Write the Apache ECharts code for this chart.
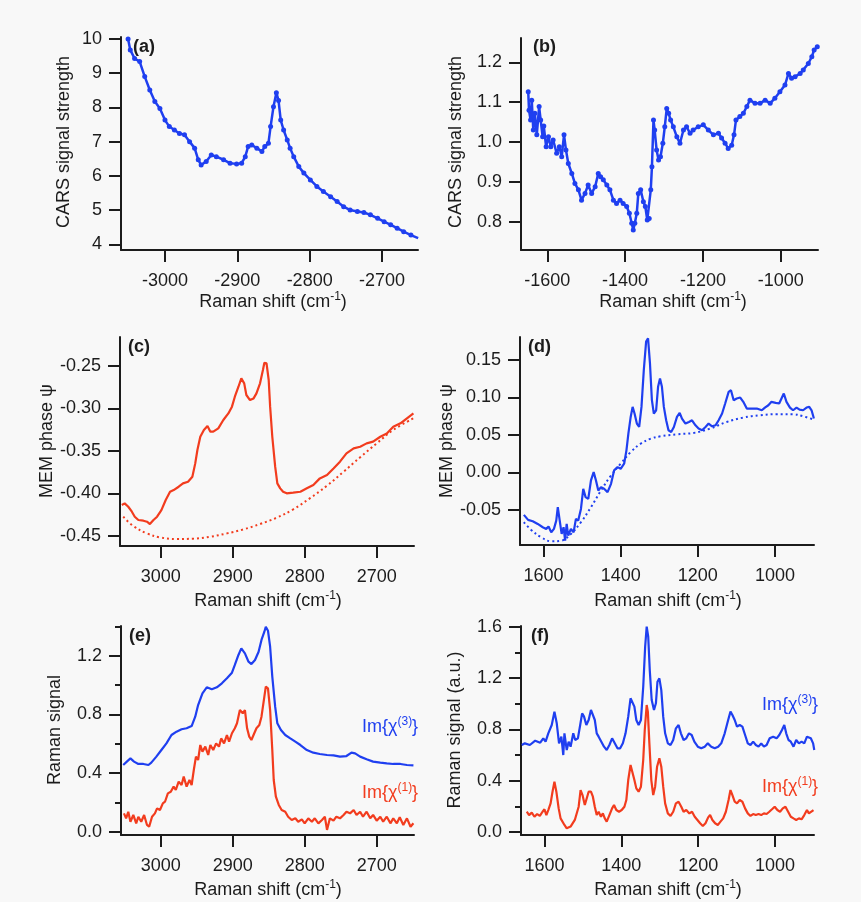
<!DOCTYPE html>
<html>
<head>
<meta charset="utf-8">
<script src="https://cdn.jsdelivr.net/npm/echarts@6/dist/echarts.min.js"></script>
<style>
  html, body { margin: 0; padding: 0; background: #f8f8f8; }
  #chart { width: 861px; height: 902px; }
</style>
</head>
<body>
<div id="chart"></div>
<script>
// ---- (a) CARS spectrum, C–H stretch region ----
const aShift = [-3051,-3048,-3042,-3035,-3028,-3021,-3014,-3007,-3000,-2994,-2987,-2980,-2973,-2966,-2959,-2954,-2950,-2943,-2936,-2929,-2919,-2910,-2901,-2894,-2889,-2885,-2880,-2873,-2866,-2862,-2857,-2854,-2850,-2846,-2843,-2840,-2836,-2831,-2827,-2822,-2815,-2808,-2799,-2790,-2781,-2771,-2762,-2753,-2744,-2734,-2725,-2716,-2706,-2697,-2688,-2679,-2670,-2660,-2650];
const aSignal = [10.0,9.68,9.43,9.34,8.9,8.51,8.17,7.97,7.63,7.44,7.34,7.24,7.2,7.0,6.81,6.47,6.32,6.42,6.61,6.56,6.47,6.37,6.35,6.37,6.56,6.86,6.9,6.81,6.71,6.86,6.95,7.44,8.02,8.43,8.2,7.63,7.34,7.05,6.81,6.56,6.27,6.08,5.88,5.69,5.54,5.39,5.25,5.1,5.0,4.96,4.93,4.86,4.76,4.66,4.57,4.47,4.37,4.27,4.18];

// ---- (b) CARS spectrum, fingerprint region ----
const bShift = [-1649,-1647,-1643,-1640,-1636,-1632,-1627,-1621,-1617,-1612,-1609,-1603,-1597,-1591,-1585,-1576,-1569,-1563,-1557,-1552,-1546,-1537,-1529,-1520,-1512,-1503,-1495,-1486,-1477,-1469,-1463,-1456,-1447,-1439,-1430,-1422,-1413,-1405,-1396,-1389,-1383,-1379,-1375,-1370,-1366,-1360,-1353,-1348,-1343,-1338,-1334,-1331,-1327,-1324,-1319,-1314,-1309,-1303,-1298,-1293,-1288,-1283,-1276,-1267,-1259,-1250,-1242,-1233,-1225,-1212,-1199,-1186,-1173,-1160,-1152,-1143,-1135,-1126,-1120,-1115,-1105,-1096,-1087,-1079,-1066,-1053,-1040,-1027,-1015,-1002,-989,-980,-972,-963,-950,-942,-929,-920,-914,-906];
const bSignal = [1.126,1.08,1.055,1.105,1.03,1.072,1.018,1.089,1.055,1.013,1.04,0.988,1.013,0.988,1.005,0.972,0.988,0.963,1.018,0.98,0.946,0.921,0.896,0.88,0.854,0.871,0.892,0.871,0.888,0.921,0.913,0.905,0.892,0.88,0.854,0.846,0.854,0.846,0.838,0.821,0.796,0.779,0.796,0.821,0.871,0.88,0.85,0.838,0.804,0.808,0.88,0.938,1.055,1.03,0.98,0.955,0.963,0.997,1.038,1.084,1.072,1.055,1.038,1.013,0.997,1.03,1.038,1.022,1.03,1.038,1.043,1.03,1.018,1.022,1.01,0.997,0.984,0.992,1.018,1.055,1.064,1.072,1.089,1.105,1.097,1.097,1.105,1.097,1.11,1.126,1.143,1.172,1.16,1.164,1.172,1.181,1.197,1.214,1.231,1.239];

// ---- (c) MEM phase, C–H stretch region ----
const cShift = [3054,3050,3045,3040,3036,3031,3024,3019,3015,3010,3005,2999,2993,2987,2982,2975,2969,2962,2956,2952,2949,2945,2940,2935,2931,2927,2920,2913,2906,2901,2897,2892,2888,2884,2881,2876,2871,2867,2862,2858,2856,2853,2850,2848,2845,2841,2838,2834,2830,2825,2816,2806,2797,2788,2779,2769,2760,2751,2742,2732,2723,2714,2705,2695,2686,2677,2667,2658,2649];
const cPhase = [-0.4136,-0.4116,-0.4156,-0.4214,-0.4273,-0.4312,-0.432,-0.4332,-0.4359,-0.4312,-0.4273,-0.4195,-0.4077,-0.398,-0.396,-0.3921,-0.3882,-0.3862,-0.3803,-0.3647,-0.349,-0.3334,-0.3255,-0.3208,-0.3275,-0.3275,-0.3236,-0.3138,-0.306,-0.2981,-0.2864,-0.2747,-0.2649,-0.2707,-0.2844,-0.2903,-0.2884,-0.2825,-0.2707,-0.2551,-0.2465,-0.2473,-0.2668,-0.2981,-0.3334,-0.3686,-0.3882,-0.394,-0.398,-0.3999,-0.3991,-0.398,-0.394,-0.3901,-0.3823,-0.3784,-0.3706,-0.3627,-0.3529,-0.3471,-0.3451,-0.3412,-0.3392,-0.3334,-0.3295,-0.3216,-0.3177,-0.3118,-0.306];
const cBaseShift = [3052,3038,3019,3001,2978,2955,2931,2908,2885,2862,2839,2816,2793,2769,2746,2723,2700,2677,2649];
const cBasePhase = [-0.4273,-0.4383,-0.4469,-0.4516,-0.4535,-0.4531,-0.4508,-0.4469,-0.4422,-0.4359,-0.4285,-0.4187,-0.4058,-0.3909,-0.3745,-0.3576,-0.3412,-0.3255,-0.3118];

// ---- (d) MEM phase, fingerprint region ----
const dShift = [1651,1640,1628,1615,1602,1593,1587,1580,1573,1567,1563,1558,1553,1548,1544,1540,1536,1529,1522,1516,1510,1503,1497,1491,1484,1477,1470,1464,1458,1451,1443,1434,1425,1417,1408,1400,1391,1385,1380,1374,1369,1364,1358,1352,1346,1340,1334,1329,1324,1319,1314,1308,1303,1298,1293,1288,1282,1276,1269,1262,1254,1247,1241,1232,1223,1215,1206,1198,1189,1180,1172,1163,1154,1146,1137,1129,1120,1114,1107,1099,1090,1082,1073,1060,1047,1034,1026,1017,1009,998,989,983,977,970,961,953,944,936,927,918,911,905,899];
const dPhase = [-0.0567,-0.0634,-0.0652,-0.0688,-0.0732,-0.0754,-0.0723,-0.0799,-0.0754,-0.0643,-0.0464,-0.0643,-0.0821,-0.0732,-0.0911,-0.0688,-0.0844,-0.0754,-0.0799,-0.0621,-0.0643,-0.0487,-0.0219,-0.033,-0.0353,-0.0107,0.0004,-0.0107,-0.0241,-0.0196,-0.0219,-0.0263,-0.0152,0.0027,0.0071,0.0049,0.0116,0.0295,0.0518,0.0741,0.0875,0.0786,0.0652,0.0607,0.0875,0.1366,0.1746,0.179,0.1455,0.0964,0.0786,0.083,0.1143,0.1254,0.1143,0.0875,0.0696,0.0563,0.054,0.0607,0.0741,0.0795,0.0719,0.0652,0.0674,0.0696,0.0629,0.0585,0.0563,0.0607,0.0652,0.0616,0.0629,0.0696,0.0786,0.092,0.1076,0.1098,0.0964,0.0987,0.1,0.0942,0.0853,0.0853,0.0853,0.083,0.0866,0.0897,0.0942,0.0929,0.092,0.0987,0.1054,0.0942,0.0866,0.083,0.0866,0.0839,0.083,0.0866,0.0875,0.083,0.0719];
const dBaseShift = [1651,1632,1606,1580,1554,1529,1503,1477,1451,1425,1400,1374,1348,1322,1297,1254,1211,1168,1125,1082,1039,996,953,927,899];
const dBasePhase = [-0.0665,-0.0768,-0.0866,-0.092,-0.0911,-0.0821,-0.0665,-0.0464,-0.0241,-0.004,0.0116,0.0272,0.0384,0.0451,0.0482,0.0509,0.0527,0.0585,0.0674,0.0732,0.0763,0.0777,0.0777,0.075,0.0705];

// ---- (e) retrieved Raman spectra, C–H stretch region ----
const eShift3 = [3052,3047,3042,3037,3031,3024,3017,3013,3006,2999,2992,2985,2978,2971,2964,2957,2952,2948,2942,2936,2929,2922,2915,2908,2901,2897,2892,2888,2883,2878,2874,2869,2864,2860,2856,2854,2851,2848,2845,2841,2838,2833,2827,2820,2813,2806,2797,2788,2779,2769,2760,2751,2742,2735,2730,2723,2714,2705,2695,2686,2677,2667,2658,2649];
const eChi3 = [0.456,0.479,0.501,0.479,0.463,0.463,0.456,0.472,0.513,0.558,0.603,0.66,0.683,0.699,0.706,0.721,0.785,0.864,0.944,0.985,0.971,0.985,1.012,1.046,1.084,1.137,1.205,1.25,1.216,1.159,1.143,1.171,1.227,1.307,1.363,1.397,1.37,1.261,1.057,0.853,0.74,0.694,0.66,0.637,0.615,0.592,0.558,0.54,0.531,0.524,0.522,0.513,0.517,0.54,0.535,0.513,0.495,0.479,0.472,0.467,0.463,0.463,0.456,0.454];
const eShift1 = [3051,3048,3045,3042,3038,3034,3031,3027,3023,3019,3016,3012,3008,3005,3001,2997,2994,2990,2986,2982,2979,2975,2971,2968,2964,2960,2957,2954,2951,2948,2945,2942,2938,2934,2931,2927,2923,2919,2916,2912,2908,2905,2901,2897,2894,2890,2886,2883,2880,2877,2874,2870,2867,2863,2860,2856,2854,2851,2848,2845,2843,2840,2836,2832,2827,2823,2818,2813,2809,2804,2800,2795,2790,2786,2781,2776,2772,2769,2765,2760,2756,2751,2746,2742,2737,2732,2728,2723,2719,2714,2709,2705,2700,2695,2691,2686,2681,2677,2672,2668,2663,2658,2653,2649];
const eChi1 = [0.127,0.093,0.138,0.07,0.116,0.059,0.104,0.07,0.116,0.048,0.036,0.104,0.127,0.161,0.15,0.195,0.206,0.263,0.274,0.309,0.286,0.343,0.32,0.377,0.309,0.354,0.32,0.422,0.513,0.49,0.592,0.547,0.581,0.524,0.592,0.558,0.603,0.581,0.637,0.603,0.66,0.615,0.672,0.706,0.74,0.83,0.808,0.83,0.706,0.649,0.626,0.672,0.706,0.728,0.785,0.921,0.989,0.978,0.83,0.558,0.354,0.24,0.184,0.15,0.138,0.104,0.082,0.093,0.07,0.086,0.059,0.093,0.07,0.093,0.059,0.082,0.104,0.014,0.093,0.077,0.104,0.093,0.116,0.138,0.127,0.15,0.116,0.138,0.104,0.138,0.093,0.116,0.077,0.104,0.07,0.104,0.059,0.093,0.059,0.1,0.048,0.093,0.036,0.059];

// ---- (f) retrieved Raman spectra, fingerprint region ----
const fShift3 = [1659,1651,1638,1624,1611,1603,1597,1590,1581,1574,1568,1562,1556,1551,1548,1542,1537,1532,1525,1520,1513,1507,1502,1497,1491,1485,1479,1474,1469,1464,1459,1452,1445,1438,1431,1424,1417,1410,1403,1396,1389,1382,1376,1371,1366,1361,1355,1349,1343,1338,1334,1330,1326,1321,1315,1310,1306,1301,1296,1291,1286,1279,1272,1265,1258,1251,1245,1238,1231,1224,1217,1210,1201,1192,1183,1175,1166,1157,1148,1140,1131,1122,1116,1111,1105,1099,1092,1085,1078,1071,1064,1057,1050,1043,1036,1029,1022,1014,1005,996,989,982,976,971,965,959,952,945,938,931,924,917,912,907,901,898];
const fChi3 = [0.678,0.691,0.678,0.712,0.696,0.73,0.704,0.769,0.834,0.938,0.847,0.691,0.743,0.6,0.769,0.639,0.704,0.665,0.769,0.717,0.73,0.834,0.925,0.899,0.834,0.873,0.951,0.951,0.873,0.769,0.743,0.704,0.665,0.639,0.678,0.73,0.691,0.652,0.652,0.691,0.769,0.899,1.042,1.055,0.977,0.873,0.834,0.873,1.132,1.444,1.6,1.522,1.262,1.029,0.951,1.003,1.171,1.197,1.106,0.899,0.769,0.691,0.678,0.717,0.808,0.834,0.769,0.717,0.73,0.769,0.756,0.704,0.665,0.652,0.665,0.691,0.665,0.652,0.665,0.691,0.769,0.873,0.938,0.912,0.873,0.821,0.834,0.821,0.756,0.691,0.678,0.704,0.678,0.665,0.691,0.665,0.678,0.73,0.743,0.73,0.756,0.795,0.834,0.769,0.717,0.704,0.665,0.717,0.691,0.704,0.691,0.743,0.756,0.73,0.691,0.639];
const fShift1 = [1646,1640,1633,1626,1619,1612,1605,1600,1595,1590,1584,1579,1574,1569,1563,1558,1553,1548,1542,1537,1532,1527,1521,1516,1511,1506,1501,1495,1490,1485,1479,1474,1469,1464,1459,1453,1448,1443,1438,1431,1424,1419,1413,1406,1399,1392,1387,1382,1376,1371,1366,1361,1355,1349,1343,1339,1334,1331,1327,1322,1317,1312,1307,1301,1296,1291,1286,1279,1272,1265,1258,1251,1244,1238,1231,1223,1216,1209,1202,1195,1188,1181,1174,1169,1163,1156,1149,1142,1135,1128,1121,1116,1111,1105,1099,1092,1085,1078,1071,1064,1057,1050,1043,1036,1029,1022,1015,1008,1001,994,987,980,973,966,959,952,945,938,931,924,917,912,907,900];
const fChi1 = [0.158,0.132,0.151,0.119,0.14,0.125,0.158,0.177,0.132,0.171,0.223,0.314,0.392,0.314,0.184,0.106,0.094,0.055,0.029,0.016,0.042,0.029,0.094,0.106,0.197,0.327,0.288,0.21,0.223,0.314,0.314,0.275,0.197,0.132,0.158,0.119,0.145,0.106,0.081,0.132,0.184,0.21,0.171,0.158,0.171,0.197,0.249,0.405,0.522,0.509,0.405,0.34,0.314,0.353,0.561,0.795,0.99,0.938,0.691,0.405,0.288,0.353,0.509,0.574,0.509,0.353,0.223,0.145,0.125,0.158,0.223,0.236,0.197,0.158,0.171,0.145,0.158,0.119,0.094,0.068,0.047,0.068,0.114,0.132,0.094,0.068,0.055,0.081,0.106,0.158,0.249,0.327,0.288,0.236,0.223,0.249,0.236,0.184,0.145,0.125,0.14,0.132,0.14,0.132,0.145,0.14,0.158,0.177,0.197,0.171,0.158,0.184,0.197,0.158,0.119,0.106,0.094,0.106,0.099,0.132,0.171,0.145,0.158,0.171];

// ---- tick values ----
const chTicksNeg = [-3000, -2900, -2800, -2700];
const fpTicksNeg = [-1600, -1400, -1200, -1000];
const chTicks = [3000, 2900, 2800, 2700];
const fpTicks = [1600, 1400, 1200, 1000];
const aTicksY = [4, 5, 6, 7, 8, 9, 10];
const bTicksY = [0.8, 0.9, 1.0, 1.1, 1.2];
const cTicksY = [-0.45, -0.40, -0.35, -0.30, -0.25];
const dTicksY = [-0.05, 0.00, 0.05, 0.10, 0.15];
const eTicksY = [0.0, 0.4, 0.8, 1.2];
const eMinorY = [0.2, 0.6, 1.0, 1.4];
const fTicksY = [0.0, 0.4, 0.8, 1.2, 1.6];
const fMinorY = [0.2, 0.6, 1.0, 1.4];

// ---- styling ----
const FONT = '"Liberation Sans", Arial, Helvetica, sans-serif';
const INK = '#1c1c1c';
const BLUE = '#1f3ff0';
const RED = '#f23c1e';
const TICK_FS = 18;

function zip(xs, ys) {
  const n = Math.min(xs.length, ys.length);
  const out = [];
  for (let i = 0; i < n; i++) out.push([xs[i], ys[i]]);
  return out;
}

// panel frames: [left, top, right, bottom] in px, with axis extents
const panels = [
  { box: [121, 37, 418, 250], x: [-3060.8, -2650.2], inv: false, xt: chTicksNeg, y: [3.833, 10.058], yt: aTicksY, yd: 0 },
  { box: [521, 38, 818, 250], x: [-1667.6, -904.1], inv: false, xt: fpTicksNeg, y: [0.729, 1.261], yt: bTicksY, yd: 1 },
  { box: [120, 337, 414, 546], x: [2648.2, 3056.5], inv: true, xt: chTicks, y: [-0.4617, -0.2163], yt: cTicksY, yd: 2 },
  { box: [520, 337, 814, 545], x: [898.7, 1661], inv: true, xt: fpTicks, y: [-0.0969, 0.1808], yt: dTicksY, yd: 2 },
  { box: [121, 626, 414, 835], x: [2648.2, 3055.1], inv: true, xt: chTicks, y: [-0.0204, 1.402], yt: eTicksY, yd: 1 },
  { box: [521, 626, 814, 835], x: [898.7, 1661], inv: true, xt: fpTicks, y: [-0.0234, 1.6055], yt: fTicksY, yd: 1 }
];

const grid = [], xAxis = [], yAxis = [];
panels.forEach((p, i) => {
  const [l, t, r, b] = p.box;
  grid.push({ left: l, top: t, width: r - l, height: b - t, containLabel: false });
  xAxis.push({
    type: 'value', gridIndex: i, min: p.x[0], max: p.x[1], inverse: p.inv, position: 'bottom',
    axisLine: { show: true, onZero: false, lineStyle: { color: INK, width: 2 } },
    axisTick: { show: true, inside: false, length: 12, lineStyle: { color: INK, width: 2 }, customValues: p.xt },
    axisLabel: { show: true, margin: 22, fontSize: TICK_FS, fontFamily: FONT, color: INK, customValues: p.xt, formatter: v => String(v) },
    splitLine: { show: false }
  });
  yAxis.push({
    type: 'value', gridIndex: i, min: p.y[0], max: p.y[1], position: 'left',
    axisLine: { show: true, onZero: false, lineStyle: { color: INK, width: 2 } },
    axisTick: { show: true, inside: false, length: 12, lineStyle: { color: INK, width: 2 }, customValues: p.yt },
    axisLabel: { show: true, margin: 19, fontSize: TICK_FS, fontFamily: FONT, color: INK, customValues: p.yt, formatter: v => v.toFixed(p.yd) },
    splitLine: { show: false }
  });
});
// minor ticks on the Raman signal axes
[[4, eMinorY], [5, fMinorY]].forEach(([gi, vals]) => {
  const p = panels[gi];
  yAxis.push({
    type: 'value', gridIndex: gi, min: p.y[0], max: p.y[1], position: 'left', offset: 0,
    axisLine: { show: false, onZero: false },
    axisTick: { show: true, inside: false, length: 6, lineStyle: { color: INK, width: 2 }, customValues: vals },
    axisLabel: { show: false },
    splitLine: { show: false }
  });
});

function line(gi, data, color, opts) {
  return Object.assign({
    type: 'line', xAxisIndex: gi, yAxisIndex: gi, data: data,
    showSymbol: false, symbol: 'none', clip: true,
    lineStyle: { color: color, width: 2.2 }, itemStyle: { color: color },
    z: 3
  }, opts || {});
}
const marked = { showSymbol: true, symbol: 'circle', symbolSize: 5, lineStyle: { color: BLUE, width: 2.5 } };

const series = [
  line(0, zip(aShift, aSignal), BLUE, marked),
  line(1, zip(bShift, bSignal), BLUE, marked),
  line(2, zip(cShift, cPhase), RED),
  line(2, zip(cBaseShift, cBasePhase), RED, { smooth: 0.4, lineStyle: { color: RED, width: 2, type: [2, 3] } }),
  line(3, zip(dShift, dPhase), BLUE),
  line(3, zip(dBaseShift, dBasePhase), BLUE, { smooth: 0.4, lineStyle: { color: BLUE, width: 2, type: [2, 3] } }),
  line(4, zip(eShift3, eChi3), BLUE),
  line(4, zip(eShift1, eChi1), RED),
  line(5, zip(fShift3, fChi3), BLUE),
  line(5, zip(fShift1, fChi1), RED)
];

// text: panel tags, axis titles, curve labels
const xTitle = '{m|Raman shift (cm}{s|-1}{m|)}';
const xTitleRich = { m: { fontSize: 18, fontFamily: FONT, lineHeight: 22 }, s: { fontSize: 12, fontFamily: FONT, verticalAlign: 'top', lineHeight: 12 } };
function tag(txt, x, y) {
  return { type: 'text', x: x, y: y, z: 10, style: { text: txt, fontSize: 18, fontWeight: 'bold', fontFamily: FONT, fill: INK, align: 'left', verticalAlign: 'middle' } };
}
function xName(cx, cy) {
  return { type: 'text', x: cx, y: cy, z: 10, style: { text: xTitle, rich: xTitleRich, fontSize: 18, fontFamily: FONT, fill: INK, align: 'center', verticalAlign: 'middle' } };
}
function yName(txt, cx, cy) {
  return { type: 'text', x: cx, y: cy, rotation: Math.PI / 2, z: 10, style: { text: txt, fontSize: 18, fontFamily: FONT, fill: INK, align: 'center', verticalAlign: 'middle' } };
}
function chiLabel(order, color, x, y) {
  return { type: 'text', x: x, y: y, z: 10, style: {
    text: '{m|Im{χ}{s|(' + order + ')}{m|}}', fill: color, fontSize: 18, fontFamily: FONT, align: 'left', verticalAlign: 'middle',
    rich: { m: { fontSize: 18, fontFamily: FONT, fill: color, lineHeight: 22 }, s: { fontSize: 12, fontFamily: FONT, fill: color, verticalAlign: 'top', lineHeight: 12 } }
  } };
}

const graphic = [
  tag('(a)', 133, 47), tag('(b)', 533, 47), tag('(c)', 128, 347),
  tag('(d)', 528, 347), tag('(e)', 129, 636), tag('(f)', 531, 636),
  xName(273, 302), xName(673, 302), xName(268, 601), xName(668, 601), xName(268, 890), xName(668, 890),
  yName('CARS signal strength', 64, 142), yName('CARS signal strength', 456, 142),
  yName('MEM phase ψ', 47, 441), yName('MEM phase ψ', 447, 441),
  yName('Raman signal', 55, 730), yName('Raman signal (a.u.)', 455, 730),
  chiLabel(3, BLUE, 362, 727), chiLabel(1, RED, 362, 793),
  chiLabel(3, BLUE, 762, 705), chiLabel(1, RED, 762, 787)
];

const chart = echarts.init(document.getElementById('chart'), null, { renderer: 'canvas' });
chart.setOption({
  animation: false,
  backgroundColor: '#f8f8f8',
  textStyle: { fontFamily: FONT },
  grid: grid, xAxis: xAxis, yAxis: yAxis, series: series, graphic: graphic
});
</script>
</body>
</html>
